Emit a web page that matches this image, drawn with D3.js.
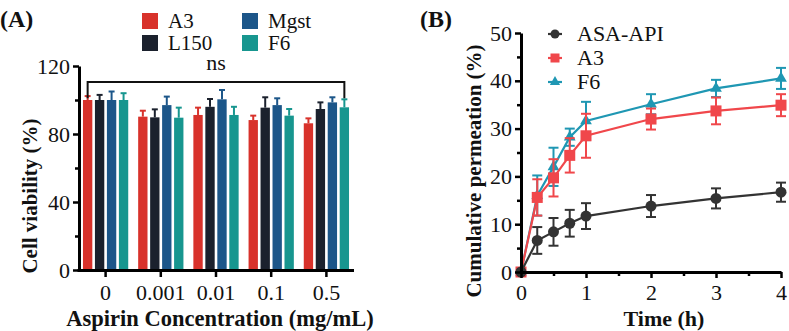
<!DOCTYPE html>
<html>
<head>
<meta charset="utf-8">
<script src="https://cdn.jsdelivr.net/npm/d3@7"></script>
<style>
  body { margin: 0; background: #fff; }
  svg text { font-family: "Liberation Serif", "Times New Roman", serif !important; }
</style>
</head>
<body>
<svg id="chart" width="789" height="331" font-family="Liberation Serif"></svg>
<script>
// Panel A data: cell viability
var concLabels = ["0", "0.001", "0.01", "0.1", "0.5"];
var viabSeries = ["A3", "L150", "Mgst", "F6"];
var viabA3 = [100, 90.2, 91.2, 88.2, 86.3];
var viabL150 = [100, 89.8, 96, 95.5, 94.7];
var viabMgst = [100, 97, 100.4, 97, 98.6];
var viabF6 = [100, 89.6, 91.2, 90.8, 95.7];
var errA3 = [2.3, 3.5, 4.3, 2.6, 2.9];
var errL150 = [3, 4.7, 4.6, 6.1, 3.9];
var errMgst = [5, 5, 5.5, 4, 3];
var errF6 = [4, 5.9, 4.8, 3.9, 4.7];
var viabTicks = [0, 40, 80, 120];

// Panel B data: cumulative permeation
var timeH = [0, 0.25, 0.5, 0.75, 1, 2, 3, 4];
var permNames = ["ASA-API", "A3", "F6"];
var permAPI = [0, 6.6, 8.4, 10.2, 11.7, 13.8, 15.4, 16.7];
var permA3 = [0, 15.6, 19.7, 24.4, 28.5, 32, 33.7, 34.9];
var permF6 = [0, 16, 22, 28.2, 31.6, 35.1, 38.4, 40.5];
var errAPI = [0, 2.8, 2.9, 2.8, 2.7, 2.3, 2.1, 2.0];
var errPA3 = [0, 3.8, 3.9, 3.6, 4.6, 2.2, 2.8, 2.3];
var errPF6 = [0, 4.2, 4, 1.8, 4, 2.1, 1.8, 2.2];
var timeTicks = [0, 1, 2, 3, 4];
var permTicks = [0, 10, 20, 30, 40, 50];

var FONT = "Liberation Serif";
var svg = d3.select("#chart");

// plain serif text helper
function label(parent, txt, size, bold) {
  var t = parent.append("text").attr("font-size", size).attr("fill", "#111")
    .style("font-family", FONT).text(txt);
  if (bold) t.attr("font-weight", "bold");
  return t;
}

// ---------- Panel A ----------
var colorsA = ["#d8322b", "#1b212d", "#1c5689", "#17968f"];
var valsA = [viabA3, viabL150, viabMgst, viabF6];
var errsA = [errA3, errL150, errMgst, errF6];

var xA = d3.scaleBand().domain(concLabels).range([78, 354]).paddingInner(0.18).paddingOuter(0.09);
var xAin = d3.scaleBand().domain(viabSeries).range([0, xA.bandwidth()]).paddingInner(0.22);
var yA = d3.scaleLinear().domain([0, 120]).range([270, 66]);

var gA = svg.append("g");
viabSeries.forEach(function (s, si) {
  var grp = gA.append("g").attr("fill", colorsA[si]).attr("stroke", colorsA[si]);
  concLabels.forEach(function (c, ci) {
    var x0 = xA(c) + xAin(s), w = xAin.bandwidth(), cx = x0 + w / 2;
    var v = valsA[si][ci], e = errsA[si][ci];
    grp.append("rect").attr("x", x0).attr("y", yA(v)).attr("width", w)
      .attr("height", yA(0) - yA(v)).attr("stroke", "none");
    grp.append("line").attr("x1", cx).attr("x2", cx).attr("y1", yA(v)).attr("y2", yA(v + e))
      .attr("stroke-width", 2);
    grp.append("line").attr("x1", cx - 3).attr("x2", cx + 3).attr("y1", yA(v + e)).attr("y2", yA(v + e))
      .attr("stroke-width", 2);
  });
});

// axes A
var yAxisA = gA.append("g").attr("transform", "translate(79,0)")
  .call(d3.axisLeft(yA).tickValues(viabTicks).tickSize(6).tickSizeOuter(0));
gA.append("g").attr("transform", "translate(79,0)")
  .call(d3.axisLeft(yA).tickValues([20, 60, 100]).tickSize(4).tickFormat(""))
  .select(".domain").remove();
var xAxisA = gA.append("g").attr("transform", "translate(0,270)")
  .call(d3.axisBottom(xA).tickSize(7).tickSizeOuter(0));
xAxisA.select(".domain").attr("d", "M77.5,0.5H354");
[yAxisA, xAxisA].forEach(function (ax) {
  ax.attr("font-family", null).attr("font-size", null);
  ax.select(".domain").attr("stroke-width", 3);
  ax.selectAll(".tick text").attr("font-size", 22).attr("fill", "#111").style("font-family", FONT);
});
gA.selectAll("g.tick line").attr("stroke-width", 2.5);
xAxisA.selectAll(".tick text").attr("dy", "0.9em");

// significance bracket
var bx1 = xA(concLabels[0]) + xAin("A3") + xAin.bandwidth() / 2;
var bx2 = xA(concLabels[4]) + xAin("F6") + xAin.bandwidth() / 2;
gA.append("path").attr("d", "M" + bx1 + "," + yA(101) + "V" + yA(110.6) + "H" + bx2 + "V" + yA(101))
  .attr("fill", "none").attr("stroke", "#111").attr("stroke-width", 2);
label(gA, "ns", 22).attr("x", (bx1 + bx2) / 2).attr("y", 70).attr("text-anchor", "middle");

// titles A
label(gA, "Cell viability (%)", 21, true).attr("transform", "translate(37,196) rotate(-90)")
  .attr("text-anchor", "middle");
label(gA, "Aspirin Concentration (mg/mL)", 22.5, true).attr("x", 220).attr("y", 326)
  .attr("text-anchor", "middle");
label(svg, "(A)", 24, true).attr("x", 0).attr("y", 27);

// legend A
viabSeries.forEach(function (s, i) {
  var lx = (i < 2) ? 142 : 242;
  var ly = (i % 2 === 0) ? 13 : 35;
  gA.append("rect").attr("x", lx).attr("y", ly).attr("width", 16).attr("height", 16).attr("fill", colorsA[i]);
  label(gA, s, 21).attr("x", lx + 26).attr("y", ly + 15);
});

// ---------- Panel B ----------
var colorsB = ["#333333", "#f0474b", "#1f97b3"];
var valsB = [permAPI, permA3, permF6];
var errsB = [errAPI, errPA3, errPF6];

var xB = d3.scaleLinear().domain([0, 4]).range([521, 781]);
var yB = d3.scaleLinear().domain([0, 50]).range([272, 33]);
var gB = svg.append("g");

var line = d3.line().x(function (d) { return xB(d[0]); }).y(function (d) { return yB(d[1]); });

// draw in order F6, A3, API so that API sits on top
[2, 1, 0].forEach(function (si) {
  var pts = timeH.map(function (t, i) { return [t, valsB[si][i], errsB[si][i]]; });
  var g = gB.append("g").attr("stroke", colorsB[si]).attr("fill", colorsB[si]);
  g.append("path").datum(pts).attr("d", line).attr("fill", "none").attr("stroke-width", 2.2);
  pts.forEach(function (p) {
    if (p[2] <= 0) return;
    var cx = xB(p[0]);
    g.append("line").attr("x1", cx).attr("x2", cx).attr("y1", yB(p[1] - p[2])).attr("y2", yB(p[1] + p[2])).attr("stroke-width", 2);
    [p[1] - p[2], p[1] + p[2]].forEach(function (v) {
      g.append("line").attr("x1", cx - 5).attr("x2", cx + 5).attr("y1", yB(v)).attr("y2", yB(v)).attr("stroke-width", 2);
    });
  });
  pts.forEach(function (p) {
    var cx = xB(p[0]), cy = yB(p[1]);
    if (si === 0) g.append("circle").attr("cx", cx).attr("cy", cy).attr("r", 5.5).attr("stroke", "none");
    else if (si === 1) g.append("rect").attr("x", cx - 5.5).attr("y", cy - 5.5).attr("width", 11).attr("height", 11).attr("stroke", "none");
    else g.append("path").attr("d", d3.symbol(d3.symbolTriangle, 60)()).attr("transform", "translate(" + cx + "," + cy + ")").attr("stroke", "none");
  });
});

var yAxisB = gB.append("g").attr("transform", "translate(521,0)")
  .call(d3.axisLeft(yB).tickValues(permTicks).tickSize(6).tickSizeOuter(0));
gB.append("g").attr("transform", "translate(521,0)")
  .call(d3.axisLeft(yB).tickValues([5, 15, 25, 35, 45]).tickSize(4).tickFormat(""))
  .select(".domain").remove();
var xAxisB = gB.append("g").attr("transform", "translate(0,272)")
  .call(d3.axisBottom(xB).tickValues(timeTicks).tickFormat(d3.format("d")).tickSize(6).tickSizeOuter(0));
gB.append("g").attr("transform", "translate(0,272)")
  .call(d3.axisBottom(xB).tickValues([0.5, 1.5, 2.5, 3.5]).tickSize(4).tickFormat(""))
  .select(".domain").remove();
[yAxisB, xAxisB].forEach(function (ax) {
  ax.attr("font-family", null).attr("font-size", null);
  ax.select(".domain").attr("stroke-width", 3);
  ax.selectAll(".tick text").attr("font-size", 22).attr("fill", "#111").style("font-family", FONT);
});
gB.selectAll("g.tick line").attr("stroke-width", 2.5);
xAxisB.selectAll(".tick text").attr("dy", "0.85em");

label(gB, "Cumulative permeation (%)", 21, true).attr("transform", "translate(481,171) rotate(-90)")
  .attr("text-anchor", "middle");
label(gB, "Time (h)", 22, true).attr("x", 664).attr("y", 326).attr("text-anchor", "middle");
label(svg, "(B)", 24, true).attr("x", 420).attr("y", 27);

// legend B
permNames.forEach(function (n, i) {
  var ly = 34 + i * 24, lx = 555;
  var g = gB.append("g").attr("stroke", colorsB[i]).attr("fill", colorsB[i]);
  g.append("line").attr("x1", lx - 7).attr("x2", lx + 7).attr("y1", ly).attr("y2", ly).attr("stroke-width", 2.2);
  if (i === 0) g.append("circle").attr("cx", lx).attr("cy", ly).attr("r", 4.5).attr("stroke", "none");
  else if (i === 1) g.append("rect").attr("x", lx - 4.5).attr("y", ly - 4.5).attr("width", 9).attr("height", 9).attr("stroke", "none");
  else g.append("path").attr("d", d3.symbol(d3.symbolTriangle, 45)()).attr("transform", "translate(" + lx + "," + ly + ")").attr("stroke", "none");
  label(gB, n, 22).attr("x", 577).attr("y", ly + 7);
});
</script>
</body>
</html>
